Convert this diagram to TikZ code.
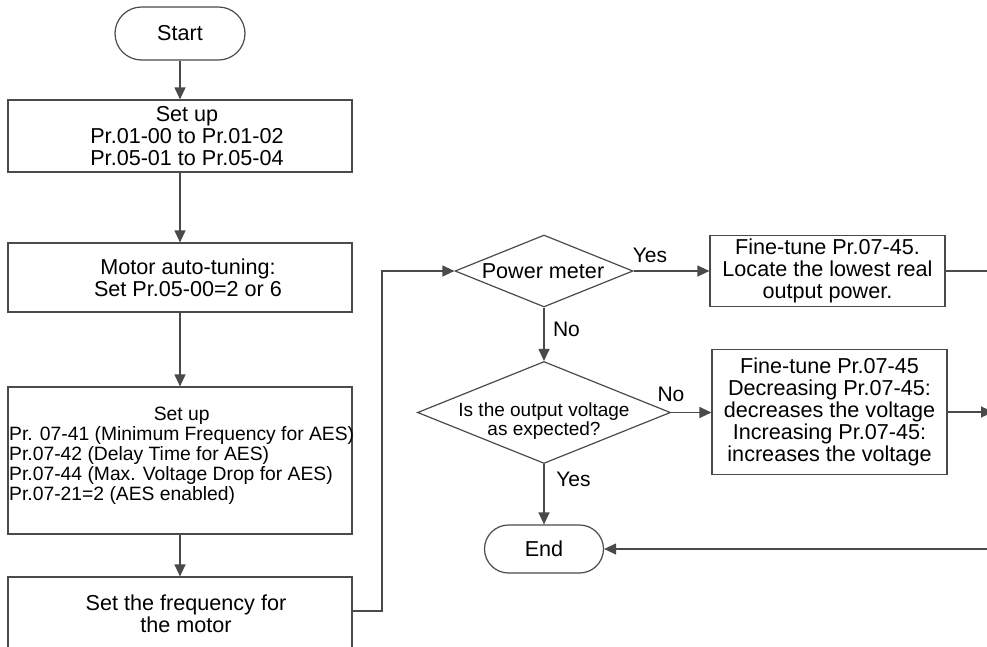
\documentclass[tikz,border=0pt]{standalone}
\usepackage{fontspec}
\setmainfont{Liberation Sans}
\usetikzlibrary{shapes.geometric,arrows.meta}
\definecolor{ln}{HTML}{4A4A4A}
\begin{document}
\begin{tikzpicture}[x=1pt,y=-1pt,
  base/.style={draw=ln,line width=1.2pt,inner sep=0pt,align=center,text=black,font=\fontsize{21.6}{21.8}\selectfont},
  term/.style={base,rectangle},
  box/.style={base,rectangle,minimum width=344pt},
  dec/.style={draw=ln,line width=1.2pt,diamond,inner sep=0pt},
  txt/.style={inner sep=0pt,align=center,font=\fontsize{21.6}{21.8}\selectfont},
  lbl/.style={inner sep=0pt,anchor=base,font=\fontsize{21}{21.7}\selectfont},
  conn/.style={draw=ln,line width=1.2pt},
  arr/.style={conn,-{Triangle[length=12pt,width=11pt,fill=ln]}}]
\useasboundingbox (0,0) rectangle (987,646);
\clip (0,0) rectangle (987,646);

% left column
\node[term,minimum width=130pt,minimum height=53pt,rounded corners=26.5pt] (start) at (180,33.5) {Start};
\node[box,minimum height=72pt] (A) at (180,136) {};
\node[txt] (At) at (187,136) {Set up\\Pr.01-00 to Pr.01-02\\Pr.05-01 to Pr.05-04};
\node[box,minimum height=69pt] (B) at (180,277.5) {};
\node[txt] (Bt) at (188,277.5) {Motor auto-tuning:\\Set Pr.05-00=2 or 6};
\node[box,minimum height=147pt] (C) at (180,460.5) {};
\node[inner sep=0pt,anchor=north west,font=\fontsize{19.3}{19.6}\selectfont] (Ct) at (9,407)
  {\begin{tabular}{@{}l@{}}\multicolumn{1}{@{}c@{}}{Set up}\\
   Pr. 07-41 (Minimum Frequency for AES)\\
   Pr.07-42 (Delay Time for AES)\\
   Pr.07-44 (Max. Voltage Drop for AES)\\
   Pr.07-21=2 (AES enabled)\end{tabular}};
\node[box,minimum height=74pt] (D) at (180,614) {};
\node[txt] (Dt) at (186,614) {Set the frequency for\\the motor};

% decisions
\node[dec,minimum width=178pt,minimum height=72pt] (d1) at (544,271) {};
\node[txt] (d1t) at (543,271) {Power meter};
\node[dec,minimum width=253pt,minimum height=102pt] (d2) at (544,412.5) {};
\node[txt,font=\fontsize{19}{18.3}\selectfont] (d2t) at (544,421) {Is the output voltage\\as expected?};

% right boxes
\node[box,minimum width=235pt,minimum height=71pt] (R1) at (827.5,271) {Fine-tune Pr.07-45.\\Locate the lowest real\\output power.};
\node[box,minimum width=235pt,minimum height=125pt] (R2) at (829.5,412) {Fine-tune Pr.07-45\\Decreasing Pr.07-45:\\decreases the voltage\\Increasing Pr.07-45:\\increases the voltage};

\node[term,minimum width=119pt,minimum height=48pt,rounded corners=24pt] (end) at (544,549) {End};

% labels
\node[lbl] (yes1) at (650,262.5) {Yes};
\node[lbl] (no1) at (566.5,336.5) {No};
\node[lbl] (no2) at (671,401.5) {No};
\node[lbl] (yes2) at (573.5,486) {Yes};

% free ends
\coordinate (r1) at (995,271);
\coordinate (r2) at (993,412);
\coordinate (r3) at (995,549);
\coordinate (lp) at (382,611);

% connectors
\draw[arr] (start) -- (A);
\draw[arr] (A) -- (B);
\draw[arr] (B) -- (C);
\draw[arr] (C) -- (D);
\draw[arr] (D.east |- lp) -- (lp) |- (d1.west);
\draw[arr] (d1.east) -- (d1.east -| R1.west);
\draw[arr] (d1.south) -- (d2.north);
\draw[arr] (d2.east) -- (d2.east -| R2.west);
\draw[arr] (d2.south) -- (end.north);
\draw[conn] (R1.east) -- (R1.east -| r1);
\draw[arr] (R2.east) -- (R2.east -| r2);
\draw[arr] (r3) -- (end.east);
\end{tikzpicture}
\end{document}
